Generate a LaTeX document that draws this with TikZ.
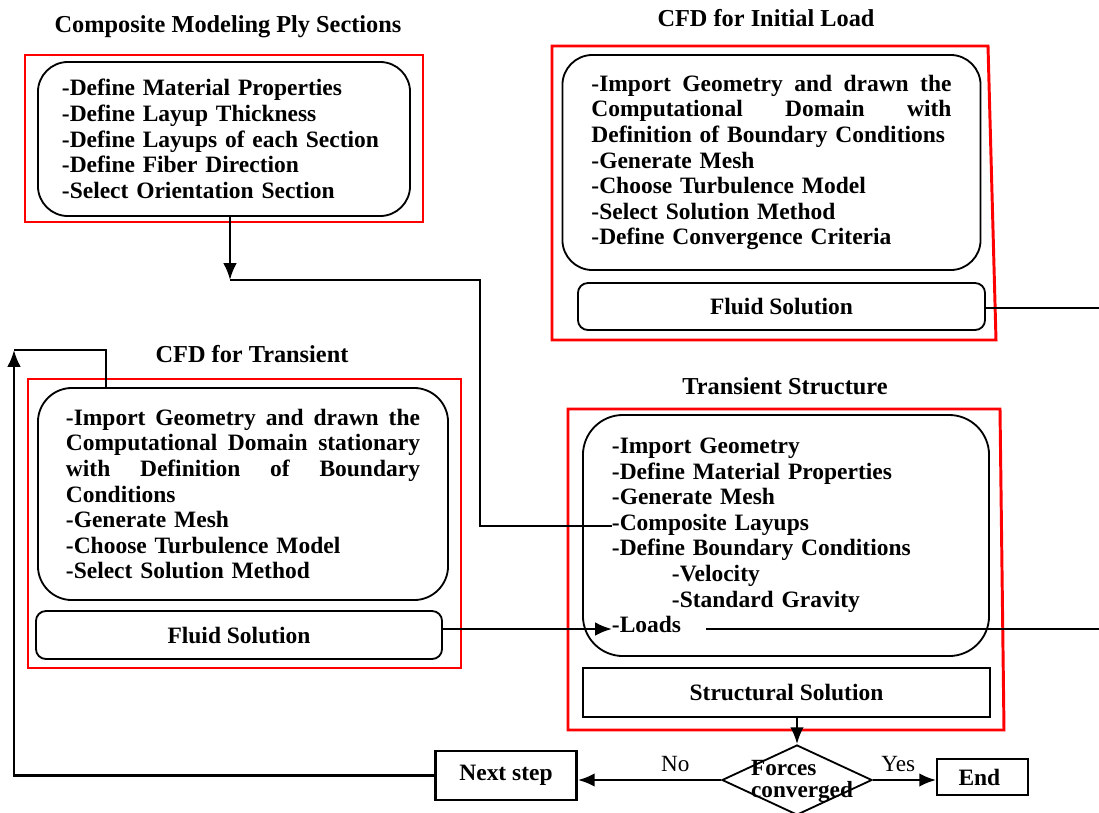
\documentclass[tikz,border=0pt]{standalone}
\usepackage{fontspec}
\setmainfont{Liberation Serif}
\usetikzlibrary{shapes.geometric,arrows.meta,calc}
\definecolor{frame}{HTML}{FF0000}
\definecolor{ink}{HTML}{000000}
\newcommand{\boxfont}{\fontsize{16.7}{18.2}\selectfont\bfseries}
\newcommand{\ttlfont}{\fontsize{17.3}{18.2}\selectfont\bfseries}
\newcommand{\labfont}{\fontsize{16.5}{15.6}\selectfont}
% justified line of a given width
\newcommand{\jline}[2]{\leavevmode\hbox to #1{\spaceskip=0.25em plus 1fil\relax #2}}
\tikzset{
  redframe/.style={draw=frame, line width=2.1pt},
  panel/.style={draw=ink, line width=1.3pt, rounded corners=0.75cm, align=left, font=\boxfont},
  solbox/.style={draw=ink, line width=1.3pt, rounded corners=0.25cm, font=\boxfont},
  plainbox/.style={draw=ink, line width=1.3pt, font=\boxfont},
  conn/.style={draw=ink, line width=1.7pt},
  arr/.style={conn, -{Latex[length=4.2mm,width=3.4mm]}},
  ttl/.style={font=\ttlfont},
  lab/.style={font=\labfont},
}

\begin{document}
\begin{tikzpicture}[x=0.025cm, y=-0.025cm]
  \useasboundingbox (0,0) rectangle (1099,812);

  % section titles
  \node[ttl] (t1) at (228,27) {Composite Modeling Ply Sections};
  \node[ttl] (t2) at (766,18) {CFD for Initial Load};
  \node[ttl] (t3) at (252,354) {CFD for Transient};
  \node[ttl] (t4) at (785,386) {Transient Structure};

  % red frames
  \draw[redframe] (25,55) rectangle (423,222);
  \draw[redframe] (552,46) -- (988,46) -- (996,340) -- (552,340) -- cycle;
  \draw[redframe] (28,379) rectangle (461,668);
  \draw[redframe] (568,409) -- (1000,409) -- (1004,730) -- (568,730) -- cycle;

  % step panels
  \node[panel, text width=8.1cm, inner xsep=0.6cm, minimum height=3.85cm] (ply) at (224,139)
    {-Define Material Properties\\
     -Define Layup Thickness\\
     -Define Layups of each Section\\
     -Define Fiber Direction\\
     -Select Orientation Section};
  \node[panel, text width=9cm, inner xsep=0.725cm, minimum height=5.375cm] (init) at (771.5,162.5)
    {\jline{9cm}{-Import Geometry and drawn the}\\
     \jline{9cm}{Computational Domain with}\\
     Definition of Boundary Conditions\\
     -Generate Mesh\\
     -Choose Turbulence Model\\
     -Select Solution Method\\
     -Define Convergence Criteria};
  \node[panel, rounded corners=0.85cm, text width=8.85cm, inner xsep=0.7cm, minimum height=5.3cm] (trans) at (243,494)
    {\jline{8.85cm}{-Import Geometry and drawn the}\\
     \jline{8.85cm}{Computational Domain stationary}\\
     \jline{8.85cm}{with Definition of Boundary}\\
     Conditions\\
     -Generate Mesh\\
     -Choose Turbulence Model\\
     -Select Solution Method};
  \node[panel, rounded corners=1cm, text width=8.7cm, inner xsep=0.725cm, minimum height=6.025cm] (struct) at (786,535.5)
    {-Import Geometry\\
     -Define Material Properties\\
     -Generate Mesh\\
     -Composite Layups\\
     -Define Boundary Conditions\\
     \hspace*{1.5cm}-Velocity\\
     \hspace*{1.5cm}-Standard Gravity\\
     -Loads};

  % solution boxes
  \node[solbox, minimum width=10.175cm, minimum height=1.175cm] (fsinit) at (781.5,306.5) {Fluid Solution};
  \node[solbox, minimum width=10.15cm, minimum height=1.2cm] (fstrans) at (239,635) {Fluid Solution};
  \node[plainbox, minimum width=10.175cm, minimum height=1.225cm] (ssol) at (786.5,692.5) {Structural Solution};

  % decision row
  \node[diamond, draw=ink, line width=1.3pt, minimum width=3.75cm, minimum height=1.75cm, inner sep=0pt] (conv) at (797,780) {};
  \node[lab, font=\labfont\bfseries, align=left] (convtxt) at (802,781) {Forces\\converged};
  \node[plainbox, line width=2pt, minimum width=3.525cm, minimum height=1.225cm] (next) at (506,775.5) {Next step};
  \node[plainbox, minimum width=2.275cm, minimum height=0.9cm, text width=1.2cm, inner xsep=0.4cm] (end) at (982.5,777) {End};

  \coordinate (drop) at (230,280);
  \coordinate (bend) at (480,280);
  \coordinate (layup) at (612,526);
  \coordinate (loads) at (612,629);
  \coordinate (loadsout) at (706,629);
  \coordinate (edgeA) at (1099,308);
  \coordinate (edgeB) at (1099,629);
  \coordinate (back) at (14,350);
  \coordinate (tin) at (106,388);

  \draw[arr] (ply.south -| drop) -- (drop);
  \draw[conn] (drop) -- (bend) |- (layup);
  \draw[conn] (fsinit.east |- edgeA) -- (edgeA);
  \draw[arr] (fstrans.east |- loads) -- (loads);
  \draw[conn] (loadsout) -- (edgeB);
  \draw[arr] (conv.north |- ssol.south) -- (conv.north);
  \draw[arr] (conv.west) -- (next.east |- conv.west) node[lab, pos=0.32, above=2pt] {No};
  \draw[arr] (conv.east) -- (end.west |- conv.east) node[lab, pos=0.4, above=2pt] {Yes};
  \draw[arr] (next.west) -| (back);
  \draw[conn] (back) -| (tin);
\end{tikzpicture}
\end{document}
